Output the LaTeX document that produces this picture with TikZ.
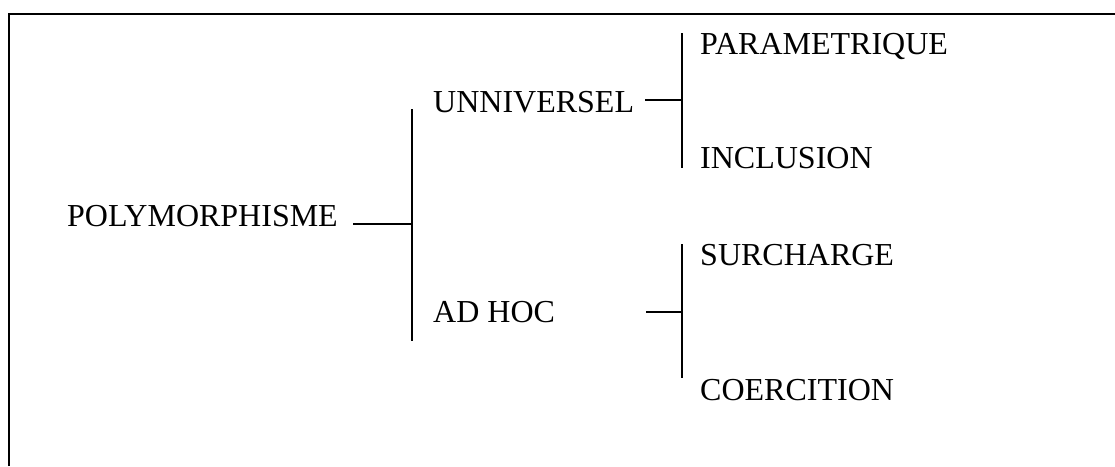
\documentclass[tikz,border=0pt]{standalone}
\usepackage{fontspec}
\setmainfont{Liberation Serif}
\usepackage{tikz}
\usetikzlibrary{positioning,calc}

\tikzset{
    term/.style={anchor=base west, inner sep=0pt, font=\fontsize{32}{38}\selectfont},
    bar/.style={line width=1.3pt}
}

\begin{document}
\begin{tikzpicture}[x=1pt, y=-1pt]
    \useasboundingbox (0,0) rectangle (1115,466);
    % cadre (haut et gauche)
    \draw[line width=2pt] (9,466) -- (9,14) -- (1115,14);

    % racine
    \node[term] (poly) at (67,226) {POLYMORPHISME};

    % premier niveau
    \node[term] (univ) at (433,112) {UNNIVERSEL};
    \node[term] (adhoc) at (433,322) {AD HOC};

    % second niveau
    \node[term] (param) at (700,54) {PARAMETRIQUE};
    \node[term] (incl) at (700,168) {INCLUSION};
    \node[term] (surch) at (700,265) {SURCHARGE};
    \node[term] (coerc) at (700,400) {COERCITION};

    % barres verticales
    \coordinate (bar1top) at (412,109);
    \coordinate (bar1bot) at (412,341);
    \coordinate (bar2top) at (682,33);
    \coordinate (bar2bot) at (682,168);
    \coordinate (bar3top) at (682,244);
    \coordinate (bar3bot) at (682,378);
    \draw[bar] (bar1top) -- (bar1bot);
    \draw[bar] (bar2top) -- (bar2bot);
    \draw[bar] (bar3top) -- (bar3bot);

    % points de jonction
    \coordinate (j1) at (412,224);
    \coordinate (j2) at (682,100);
    \coordinate (j3) at (682,312);

    % liaisons horizontales
    \draw[bar, shorten <=15pt] (poly.base east |- j1) -- (j1);
    \draw[bar, shorten <=11pt] (univ.base east |- j2) -- (j2);
    \draw[bar, shorten <=91pt] (adhoc.base east |- j3) -- (j3);
\end{tikzpicture}
\end{document}
